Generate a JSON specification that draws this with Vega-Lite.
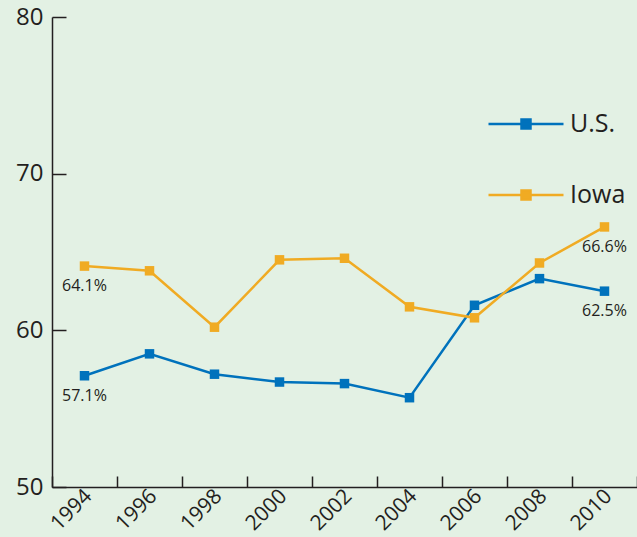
{
  "$schema": "https://vega.github.io/schema/vega-lite/v6.json",
  "width": 585,
  "height": 470,
  "autosize": "none",
  "padding": {"left": 52, "top": 17, "right": 0, "bottom": 50},
  "background": "#e3f1e4",
  "config": {"view": {"stroke": null}, "font": "Open Sans"},
  "data": {
    "values": [
      {"year": "1994", "series": "U.S.", "value": 57.1, "label": "57.1%"},
      {"year": "1996", "series": "U.S.", "value": 58.5},
      {"year": "1998", "series": "U.S.", "value": 57.2},
      {"year": "2000", "series": "U.S.", "value": 56.7},
      {"year": "2002", "series": "U.S.", "value": 56.6},
      {"year": "2004", "series": "U.S.", "value": 55.7},
      {"year": "2006", "series": "U.S.", "value": 61.6},
      {"year": "2008", "series": "U.S.", "value": 63.3},
      {"year": "2010", "series": "U.S.", "value": 62.5, "label": "62.5%"},
      {"year": "1994", "series": "Iowa", "value": 64.1, "label": "64.1%"},
      {"year": "1996", "series": "Iowa", "value": 63.8},
      {"year": "1998", "series": "Iowa", "value": 60.2},
      {"year": "2000", "series": "Iowa", "value": 64.5},
      {"year": "2002", "series": "Iowa", "value": 64.6},
      {"year": "2004", "series": "Iowa", "value": 61.5},
      {"year": "2006", "series": "Iowa", "value": 60.8},
      {"year": "2008", "series": "Iowa", "value": 64.3},
      {"year": "2010", "series": "Iowa", "value": 66.6, "label": "66.6%"}
    ]
  },
  "encoding": {
    "x": {
      "field": "year",
      "type": "ordinal",
      "scale": {"paddingInner": 0, "paddingOuter": 0},
      "axis": {
        "title": null,
        "labelAngle": -45,
        "labelAlign": "right",
        "labelBaseline": "top",
        "labelFontSize": 21,
        "labelColor": "#231f20",
        "labelOffset": -4,
        "tickBand": "extent",
        "tickSize": -11,
        "tickColor": "#231f20",
        "tickWidth": 1.5,
        "domainColor": "#231f20",
        "domainWidth": 1.5,
        "labelPadding": 9,
        "grid": false
      }
    },
    "y": {
      "field": "value",
      "type": "quantitative",
      "scale": {"domain": [50, 80], "nice": false, "zero": false},
      "axis": {
        "title": null,
        "values": [50, 60, 70, 80],
        "tickSize": -14,
        "tickColor": "#231f20",
        "tickWidth": 1.5,
        "domainColor": "#231f20",
        "domainWidth": 1.5,
        "labelFontSize": 24,
        "labelColor": "#231f20",
        "labelPadding": 23,
        "grid": false
      }
    }
  },
  "layer": [
    {
      "mark": {"type": "line", "strokeWidth": 2.5, "point": {"shape": "square", "filled": true, "size": 90, "opacity": 1}},
      "encoding": {
        "color": {
          "field": "series",
          "type": "nominal",
          "scale": {"domain": ["U.S.", "Iowa"], "range": ["#0072bc", "#f0ab23"]},
          "legend": {
            "orient": "none",
            "legendX": 435,
            "legendY": 68,
            "title": null,
            "direction": "vertical",
            "symbolType": "M-1,0H1M-0.12,-0.12H0.12V0.12H-0.12Z",
            "symbolSize": 5625,
            "symbolStrokeWidth": 2.5,
            "labelFontSize": 25,
            "labelColor": "#231f20",
            "labelOffset": 5,
            "rowPadding": 19,
            "padding": 0,
            "offset": 0,
            "encode": {"symbols": {"update": {"fill": {"scale": "color", "field": "value"}, "stroke": {"scale": "color", "field": "value"}}}}
          }
        }
      }
    },
    {
      "transform": [{"filter": "datum.label != null"}],
      "mark": {"type": "text", "dy": 20, "fontSize": 16, "color": "#231f20"},
      "encoding": {"text": {"field": "label"}}
    }
  ]
}
